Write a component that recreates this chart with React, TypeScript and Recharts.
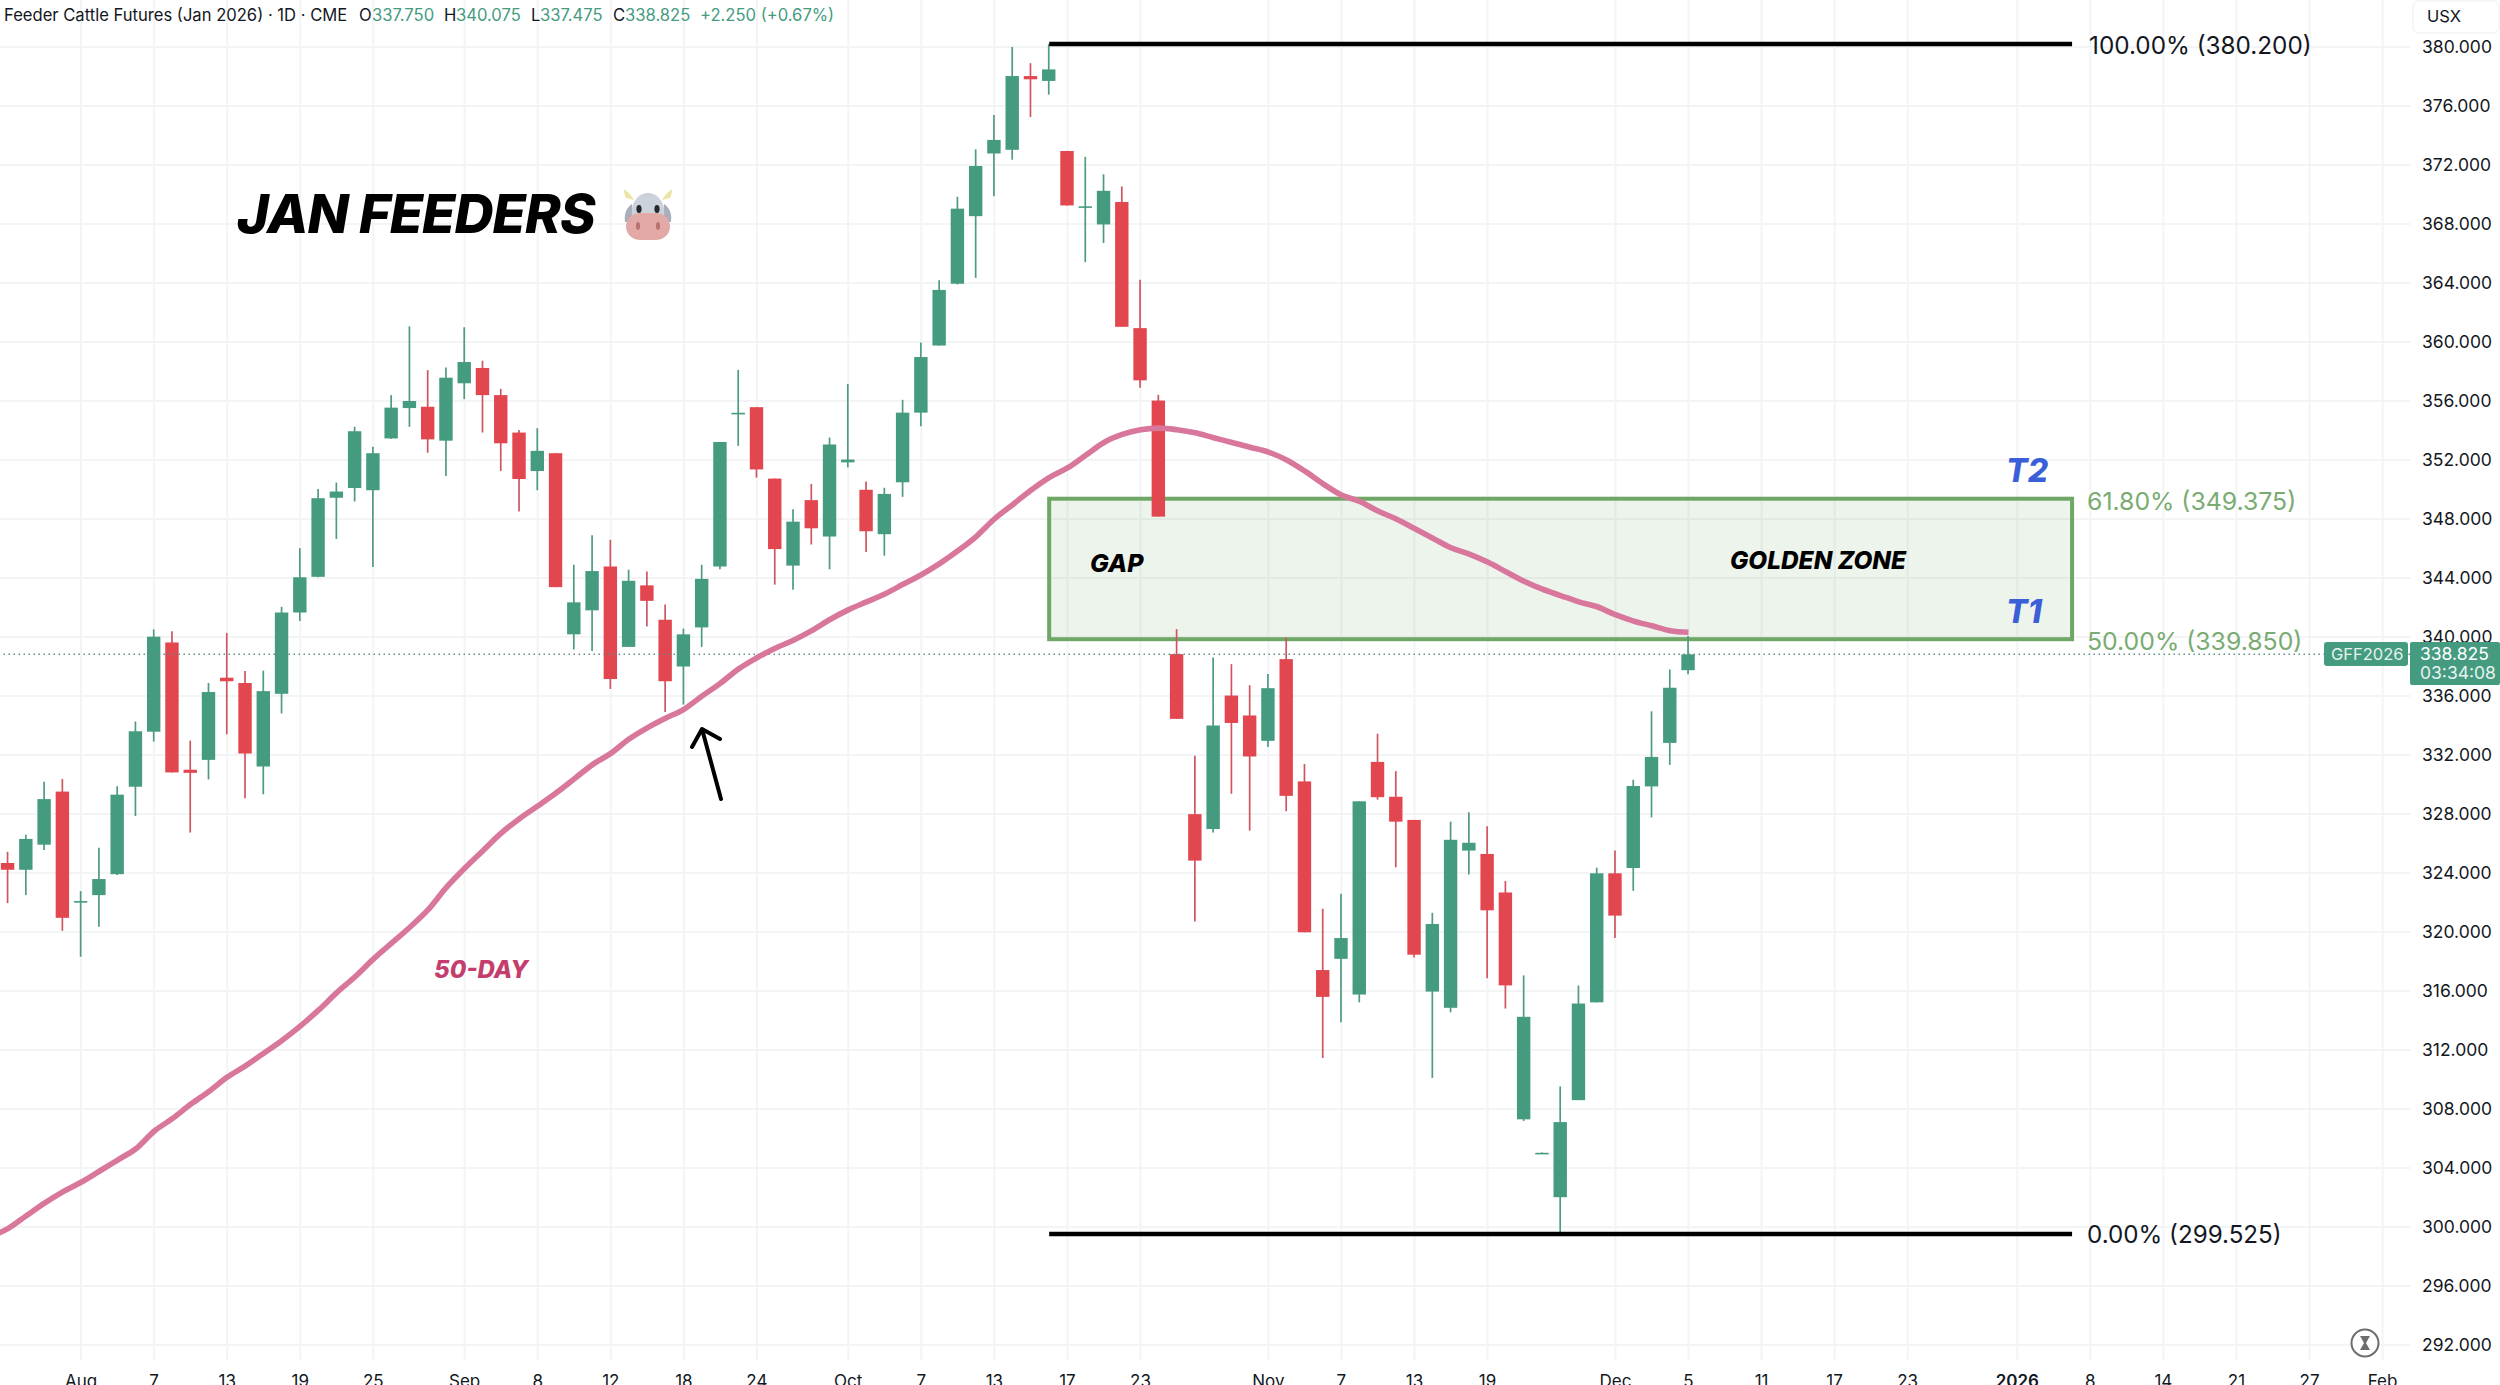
import React from 'react';
import { ComposedChart, Bar, Line, XAxis, YAxis, CartesianGrid, ReferenceLine, ReferenceArea } from 'recharts';

const opens = [324.68,324.22,325.92,329.52,322.03,322.5,323.92,329.85,333.58,339.63,331.0,331.67,337.24,336.88,331.22,336.15,341.66,344.08,349.44,350.1,349.95,353.46,355.52,355.61,353.31,357.2,358.24,356.4,353.86,351.25,352.46,340.18,341.81,344.78,339.33,343.5,341.17,338.0,340.65,344.78,355.1,355.58,350.74,344.84,349.28,346.81,351.84,349.98,346.97,350.49,355.21,359.76,363.95,368.53,372.78,373.03,378.03,377.7,372.95,369.15,367.97,369.49,360.94,356.03,338.84,327.99,326.98,336.03,334.68,332.96,338.5,330.21,317.42,318.18,315.76,331.53,329.17,327.6,315.96,314.86,325.52,325.29,322.68,307.3,305.03,302.02,308.6,315.23,323.98,324.34,329.87,332.82,337.75];
const closes = [324.22,326.31,329.01,320.96,322.1,323.59,329.31,333.61,340.02,330.82,330.79,336.27,337.0,332.1,336.33,341.66,344.05,349.41,349.86,353.95,352.46,355.55,356.0,353.4,357.58,358.64,356.4,353.13,350.71,352.62,343.38,342.35,344.47,337.15,343.81,342.45,337.0,340.18,343.94,353.22,355.2,351.36,345.96,347.82,347.37,353.05,352.03,347.17,349.7,355.21,358.98,363.53,369.04,371.93,373.7,378.03,377.81,378.48,369.26,369.2,370.25,361.03,357.4,348.16,334.45,324.84,334.0,334.17,331.9,336.53,329.23,319.98,315.6,319.59,328.86,329.14,327.48,318.46,320.54,326.25,326.05,321.47,316.38,314.25,305.03,307.11,315.15,323.98,321.11,329.9,331.87,336.56,338.825];
const highs = [325.44,326.59,330.19,330.37,322.77,325.71,329.88,334.27,340.51,340.39,332.97,336.88,340.27,337.69,337.72,342.05,346.02,350.04,350.47,354.25,352.89,356.4,361.06,358.09,358.27,361.0,358.73,356.82,354.04,354.16,352.46,344.9,346.9,346.59,344.56,344.44,342.2,340.57,344.9,353.22,358.11,355.58,350.74,348.66,350.38,353.52,357.15,350.55,350.12,356.08,359.96,364.18,369.85,373.06,375.39,380.0,378.9,380.2,372.95,372.55,371.37,370.55,364.22,356.42,340.53,331.95,338.61,338.16,336.73,337.49,339.96,331.39,321.58,322.59,328.86,333.44,330.91,327.6,321.3,327.48,328.11,327.17,323.46,317.06,305.05,309.53,316.37,324.36,325.53,330.32,334.96,337.8,340.075];
const lows = [321.96,322.5,325.56,320.08,318.32,320.35,323.86,327.86,332.91,330.82,326.74,330.34,333.4,329.07,329.34,334.82,341.08,344.05,346.65,349.19,344.75,353.43,354.25,352.49,350.92,356.13,353.86,351.25,348.5,349.95,343.38,339.15,339.05,336.48,339.33,340.72,334.91,335.42,339.33,344.59,352.96,350.8,343.55,343.2,346.27,344.59,351.5,345.77,345.51,349.5,354.28,359.76,363.9,364.35,369.88,372.36,375.25,376.77,369.26,365.41,366.71,361.03,356.9,348.16,334.45,320.71,326.75,329.37,326.87,332.54,328.19,319.98,311.46,313.88,315.23,328.97,324.39,318.27,310.11,314.56,323.89,316.86,314.81,307.19,305.0,299.525,308.6,315.23,319.59,322.79,327.77,331.33,337.475];
const movingAverage = [299.35,299.89,300.76,301.62,302.38,303.03,303.78,304.54,305.3,306.49,307.35,308.32,309.19,310.16,310.92,311.78,312.65,313.62,314.7,315.89,316.97,318.16,319.24,320.32,321.51,323.03,324.32,325.51,326.7,327.68,328.54,329.42,330.38,331.35,332.11,333.08,333.84,334.49,335.1,336.0,336.86,337.84,338.59,339.24,339.78,340.43,341.19,341.84,342.38,342.92,343.57,344.22,344.97,345.84,346.81,348.0,348.97,349.95,350.81,351.46,352.32,353.19,353.73,354.05,354.16,354.05,353.84,353.51,353.19,352.86,352.54,352.0,351.24,350.38,349.62,349.19,348.54,348.0,347.35,346.7,346.05,345.62,345.08,344.43,343.78,343.24,342.81,342.38,342.05,341.51,341.08,340.76,340.43,340.32];

const priceTicks = [380,376,372,368,364,360,356,352,348,344,340,336,332,328,324,320,316,312,308,304,300,296,292];
const timeTickSlots = [4,8,12,16,20,25,29,33,37,41,46,50,54,58,62,69,73,77,81,88,92,96,100,104,110,114,118,122,126,130];
const timeTickLabels = ['Aug','7','13','19','25','Sep','8','12','18','24','Oct','7','13','17','23','Nov','7','13','19','Dec','5','11','17','23','2026','8','14','21','27','Feb'];
const totalSlots = 132;
const boldTimeLabels = ['2026'];

const FIB_100 = 380.2, FIB_618 = 349.375, FIB_50 = 339.85, FIB_0 = 299.525, LAST = 338.825;
const FIB_START = 57, FIB_END = 113;

const UP = '#459B80', DOWN = '#E2474F', UP_WICK = '#4F9A84', DOWN_WICK = '#CF5560';
const FONT = 'Inter, "Liberation Sans", sans-serif';

const data: any[] = [{ slot: -1, ma: movingAverage[0] }];
for (let i = 0; i < totalSlots; i++) {
  if (i < opens.length) {
    data.push({ slot: i, open: opens[i], close: closes[i], high: highs[i], low: lows[i], range: [lows[i], highs[i]], ma: movingAverage[i + 1] });
  } else {
    data.push({ slot: i });
  }
}

const Candle = (props: any) => {
  const { x, y, width, height, payload } = props;
  if (!payload || payload.open == null) return null;
  const unit = height / (payload.high - payload.low);
  const top = y + (payload.high - Math.max(payload.open, payload.close)) * unit;
  const bottom = y + (payload.high - Math.min(payload.open, payload.close)) * unit;
  const up = payload.close >= payload.open;
  const cx = x + width / 2;
  const bodyH = Math.max(bottom - top, 1.6);
  return (
    <g>
      <line x1={cx} x2={cx} y1={y} y2={y + Math.max(height, 1)} stroke={up ? UP_WICK : DOWN_WICK} strokeWidth={1.7} />
      <rect x={x} y={top} width={width} height={bodyH} fill={up ? UP : DOWN} />
    </g>
  );
};

const Zone = (props: any) => {
  const { x, y, width, height } = props;
  const half = width / (FIB_END - FIB_START + 1) / 2;
  return (
    <g>
      <rect x={x + half} y={y} width={width - 2 * half} height={height} fill="#6FA766" fillOpacity={0.12} />
      <rect x={x + half} y={y} width={width - 2 * half} height={height} fill="none" stroke="#6FA766" strokeWidth={4} />
    </g>
  );
};

const Note = ({ x, y, size, color, text, italic, weight, family, spacing }: any) => (
  <div style={{ position: 'absolute', left: x, top: y, transform: 'translateY(-50%)', fontSize: size, color, fontStyle: italic ? 'italic' : 'normal', fontWeight: weight || 400, fontFamily: family || FONT, letterSpacing: spacing || 0, lineHeight: 1, whiteSpace: 'nowrap' }}>{text}</div>
);

const Cow = () => (
  <svg style={{ position: 'absolute', left: 620, top: 188, overflow: 'visible' }} width={56} height={54} viewBox="0 0 56 54">
    <path d="M6 10 C4 5 4 3 4 1 C9 5 12 8 14 12 Z" fill="#EFE3A6" />
    <path d="M50 10 C52 5 52 3 52 1 C47 5 44 8 42 12 Z" fill="#EFE3A6" />
    <path d="M5 34 C4 26 6 20 12 16 L14 34 Z" fill="#A9AFB8" />
    <path d="M51 34 C52 26 50 20 44 16 L42 34 Z" fill="#A9AFB8" />
    <path d="M12 32 C10 14 18 5 28 5 C38 5 46 14 44 32 Z" fill="#CCD2DA" />
    <ellipse cx="19" cy="21" rx="2.6" ry="4" fill="#26262B" />
    <ellipse cx="37" cy="21" rx="2.6" ry="4" fill="#26262B" />
    <rect x="6" y="25" width="44" height="27" rx="14" fill="#E3A9A7" />
    <ellipse cx="18" cy="38" rx="2" ry="4" fill="#B8736E" />
    <ellipse cx="38" cy="38" rx="2" ry="4" fill="#B8736E" />
  </svg>
);

export default function App() {
  return (
    <div style={{ position: 'absolute', left: 0, top: 0, width: 2500, height: 1385, background: '#fff', overflow: 'hidden' }}>
      <ComposedChart width={2500} height={1385} data={data} margin={{ left: -19.4, top: 0, right: 0, bottom: 0 }} barSize={13.4}>
        <CartesianGrid stroke="#F3F4F6" strokeWidth={2} syncWithTicks />
        <XAxis dataKey="slot" type="category" height={25} ticks={timeTickSlots} interval={0} axisLine={false} tickLine={false} tickSize={0} tickMargin={14}
          tickFormatter={(v: number) => timeTickLabels[timeTickSlots.indexOf(v)]}
          tick={(p: any) => {
            const label = timeTickLabels[timeTickSlots.indexOf(p.payload.value)];
            return <text x={p.x} y={1387} textAnchor="middle" fontSize={17} fontFamily={FONT} fill="#131722" fontWeight={boldTimeLabels.includes(label) ? 600 : 400}>{label}</text>;
          }} />
        <YAxis orientation="right" width={90} domain={[290.983, 383.186]} allowDataOverflow ticks={priceTicks} interval={0} axisLine={false} tickLine={false} tickSize={0} tickMargin={12}
          tickFormatter={(v: number) => v.toFixed(3)} tick={{ fontSize: 17.5, fontFamily: FONT, fill: '#131722' }} />
        <ReferenceArea x1={FIB_START} x2={FIB_END} y1={FIB_50} y2={FIB_618} shape={Zone} ifOverflow="visible" />
        <ReferenceLine y={LAST} stroke="#5F8F82" strokeWidth={1.5} strokeDasharray="1.5 3.5" />
        <Bar dataKey="range" shape={Candle} isAnimationActive={false} />
        <Line dataKey="ma" type="monotone" stroke="#D9769C" strokeWidth={5.6} dot={false} isAnimationActive={false} connectNulls={false} />
        <ReferenceLine segment={[{ x: FIB_START, y: FIB_100 }, { x: FIB_END, y: FIB_100 }]} stroke="#000" strokeWidth={4.5} ifOverflow="visible" />
        <ReferenceLine segment={[{ x: FIB_START, y: FIB_0 }, { x: FIB_END, y: FIB_0 }]} stroke="#000" strokeWidth={4.5} ifOverflow="visible" />
      </ComposedChart>

      <Note x={4} y={15} size={16.6} color="#131722" text="Feeder Cattle Futures (Jan 2026) · 1D · CME" />
      <Note x={359} y={15} size={16.6} color="#131722" text="O" />
      <Note x={372} y={15} size={16.6} color={UP} text="337.750" />
      <Note x={444} y={15} size={16.6} color="#131722" text="H" />
      <Note x={456} y={15} size={16.6} color={UP} text="340.075" />
      <Note x={531} y={15} size={16.6} color="#131722" text="L" />
      <Note x={540} y={15} size={16.6} color={UP} text="337.475" />
      <Note x={613} y={15} size={16.6} color="#131722" text="C" />
      <Note x={625} y={15} size={16.6} color={UP} text="338.825" />
      <Note x={700} y={15} size={16.6} color={UP} text="+2.250 (+0.67%)" />

      <Note x={237} y={214} size={54} color="#000" italic weight={800} spacing={-0.9} text="JAN FEEDERS" />
      <Cow />
      <Note x={1090} y={563} size={25} color="#000" italic weight={800} text="GAP" />
      <Note x={1730} y={559.5} size={24.4} color="#000" italic weight={800} text="GOLDEN ZONE" />
      <Note x={2006} y={471} size={32} color="#3B5FD9" italic weight={800} text="T2" />
      <Note x={2006} y={612} size={32} color="#3B5FD9" italic weight={800} text="T1" />
      <Note x={434} y={969.5} size={24} color="#C43D6D" italic weight={800} text="50-DAY" />

      <Note x={2089} y={45} size={24.3} color="#131722" text="100.00% (380.200)" />
      <Note x={2087} y={500.5} size={24.8} color="#7AAB72" text="61.80% (349.375)" />
      <Note x={2087} y={640.5} size={24.8} color="#7AAB72" text="50.00% (339.850)" />
      <Note x={2087} y={1235} size={24.2} color="#131722" text="0.00% (299.525)" />

      <svg style={{ position: 'absolute', left: 0, top: 0 }} width={2500} height={1385}>
        <path d="M721 799 L702 729 M692 747 L702 729 L720 739" fill="none" stroke="#000" strokeWidth={4} strokeLinecap="round" strokeLinejoin="round" />
        <rect x={2413} y={1} width={86} height={32} rx={6} fill="#fff" stroke="#F4F4F5" strokeWidth={1.5} />
        <rect x={2324} y={642} width={84} height={24} rx={3} fill={UP} />
        <rect x={2410} y={642} width={90} height={43} rx={2} fill={UP} />
        <circle cx={2365} cy={1343} r={13.5} fill="#fff" stroke="#6E6E6E" strokeWidth={2} />
        <path d="M2360 1336 H2370 L2366 1343 L2370 1350 H2360 L2364 1343 Z" fill="#6E6E6E" />
      </svg>
      <Note x={2427} y={16} size={16.5} color="#131722" text="USX" />
      <Note x={2331} y={654} size={16.5} color="#E6F3EF" text="GFF2026" />
      <Note x={2420} y={654} size={17.5} color="#fff" text="338.825" />
      <Note x={2420} y={673} size={17.5} color="#E6F3EF" text="03:34:08" />
    </div>
  );
}
